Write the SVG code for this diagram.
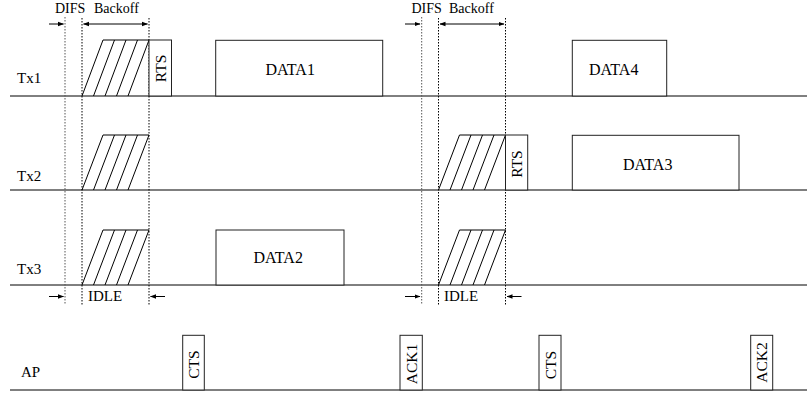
<svg xmlns="http://www.w3.org/2000/svg" width="807" height="393" viewBox="0 0 807 393">
<defs>
<marker id="ah" markerWidth="6" markerHeight="6" refX="5.5" refY="3" orient="auto-start-reverse" markerUnits="userSpaceOnUse">
<path d="M0,0.8 L6,3 L0,5.2 Z" fill="#000"/>
</marker>
</defs>
<style>
text{font-family:"Liberation Serif","Times New Roman",serif;fill:#000}
.lbl{font-size:15px}
.hd{font-size:14px}
.dt{font-size:16px}
.rt{font-size:15.5px}
.base{stroke:#000;stroke-width:1;fill:none}
.box{stroke:#222;stroke-width:1;fill:#fff}
.dot{stroke:#000;stroke-width:1;stroke-dasharray:1.5,1.5;fill:none}
.dotg{stroke:#555;stroke-width:1;stroke-dasharray:1.5,1.5;fill:none}
.h{stroke:#000;stroke-width:1;fill:none}
.arr{stroke:#000;stroke-width:1;fill:none;marker-end:url(#ah)}
.arr2{stroke:#000;stroke-width:1;fill:none;marker-end:url(#ah);marker-start:url(#ah)}
</style>
<rect width="807" height="393" fill="#fff"/>

<g id="timelines">
<line class="base" x1="10" y1="96" x2="807" y2="96"/>
<line class="base" x1="10" y1="190" x2="807" y2="190" style="stroke:#555;stroke-width:1.3"/>
<line class="base" x1="10" y1="285" x2="807" y2="285"/>
<line class="base" x1="10" y1="390" x2="807" y2="390"/>
<text class="lbl" x="17" y="83">Tx1</text>
<text class="lbl" x="17" y="181">Tx2</text>
<text class="lbl" x="17" y="274">Tx3</text>
<text class="lbl" x="21" y="377">AP</text>
</g>

<g id="markers">
<line class="dotg" x1="65" y1="17" x2="65" y2="305"/>
<line class="dot" x1="82" y1="18" x2="82" y2="305"/>
<line class="dot" x1="149" y1="18" x2="149" y2="305"/>
<line class="dotg" x1="421.7" y1="17" x2="421.7" y2="305"/>
<line class="dot" x1="438.5" y1="18" x2="438.5" y2="305"/>
<line class="dot" x1="505.5" y1="18" x2="505.5" y2="305"/>
<text class="hd" x="55" y="13">DIFS</text>
<text class="hd" x="94" y="13">Backoff</text>
<text class="hd" x="411.5" y="13">DIFS</text>
<text class="hd" x="449" y="13">Backoff</text>
<text class="lbl" x="88" y="301">IDLE</text>
<text class="lbl" x="444" y="301">IDLE</text>
</g>

<g id="connectors">
<line class="arr" x1="49" y1="24" x2="63.5" y2="24"/>
<line class="arr2" x1="83.5" y1="24" x2="147.5" y2="24"/>
<line class="arr" x1="405" y1="24" x2="420" y2="24"/>
<line class="arr2" x1="440" y1="24" x2="504" y2="24"/>
<line class="arr" x1="49" y1="296.5" x2="63.5" y2="296.5"/>
<line class="arr" x1="165" y1="296.5" x2="150.5" y2="296.5"/>
<line class="arr" x1="405" y1="296.5" x2="420" y2="296.5"/>
<line class="arr" x1="521.5" y1="296.5" x2="507" y2="296.5"/>
</g>

<g id="backoff-tx1">
<path class="h" d="M82,96 L103,40 L149,40 M93.5,96 L114.5,40 M105,96 L126,40 M116.5,96 L137.5,40 M128,96 L149,40"/>
</g>
<g id="backoff-tx2">
<path class="h" d="M82,190 L103,135 L149,135 M93.5,190 L114.5,135 M105,190 L126,135 M116.5,190 L137.5,135 M128,190 L149,135"/>
</g>
<g id="backoff-tx3">
<path class="h" d="M82,285 L103,230 L149,230 M93.5,285 L114.5,230 M105,285 L126,230 M116.5,285 L137.5,230 M128,285 L149,230"/>
</g>
<g id="backoff2-tx2">
<path class="h" d="M438.5,190 L459.5,135 L505.5,135 M450,190 L471,135 M461.5,190 L482.5,135 M473,190 L494,135 M484.5,190 L505.5,135"/>
</g>
<g id="backoff2-tx3">
<path class="h" d="M438.5,285 L459.5,230 L505.5,230 M450,285 L471,230 M461.5,285 L482.5,230 M473,285 L494,230 M484.5,285 L505.5,230"/>
</g>

<g id="rts1">
<rect class="box" x="149" y="40" width="22.5" height="56"/>
<text class="rt" x="160.5" y="68.5" text-anchor="middle" dominant-baseline="central" transform="rotate(-90 160.5 68.5)">RTS</text>
</g>
<g id="data1">
<rect class="box" x="215.7" y="40.3" width="167" height="55.7"/>
<text class="dt" x="265.5" y="75">DATA1</text>
</g>
<g id="data4">
<rect class="box" x="572.3" y="40.3" width="94.4" height="55.7"/>
<text class="dt" x="589" y="74.5">DATA4</text>
</g>
<g id="rts2">
<rect class="box" x="505.5" y="135" width="22.2" height="55"/>
<text class="rt" x="516.6" y="164" text-anchor="middle" dominant-baseline="central" transform="rotate(-90 516.6 164)">RTS</text>
</g>
<g id="data3">
<rect class="box" x="572.3" y="135.3" width="166.7" height="54.7"/>
<text class="dt" x="623" y="169.5">DATA3</text>
</g>
<g id="data2">
<rect class="box" x="216" y="230" width="128" height="55"/>
<text class="dt" x="253.5" y="263">DATA2</text>
</g>
<g id="cts1">
<rect class="box" x="182.7" y="335.3" width="21.6" height="54.7"/>
<text class="rt" x="193.5" y="364.5" text-anchor="middle" dominant-baseline="central" transform="rotate(-90 193.5 364.5)">CTS</text>
</g>
<g id="ack1">
<rect class="box" x="400" y="335.3" width="22.3" height="54.7"/>
<text class="rt" x="411.2" y="364" text-anchor="middle" dominant-baseline="central" transform="rotate(-90 411.2 364)">ACK1</text>
</g>
<g id="cts2">
<rect class="box" x="539" y="335.3" width="22" height="54.7"/>
<text class="rt" x="550" y="365" text-anchor="middle" dominant-baseline="central" transform="rotate(-90 550 365)">CTS</text>
</g>
<g id="ack2">
<rect class="box" x="750.7" y="335.3" width="22" height="54.7"/>
<text class="rt" x="761.7" y="362.5" text-anchor="middle" dominant-baseline="central" transform="rotate(-90 761.7 362.5)">ACK2</text>
</g>
</svg>
